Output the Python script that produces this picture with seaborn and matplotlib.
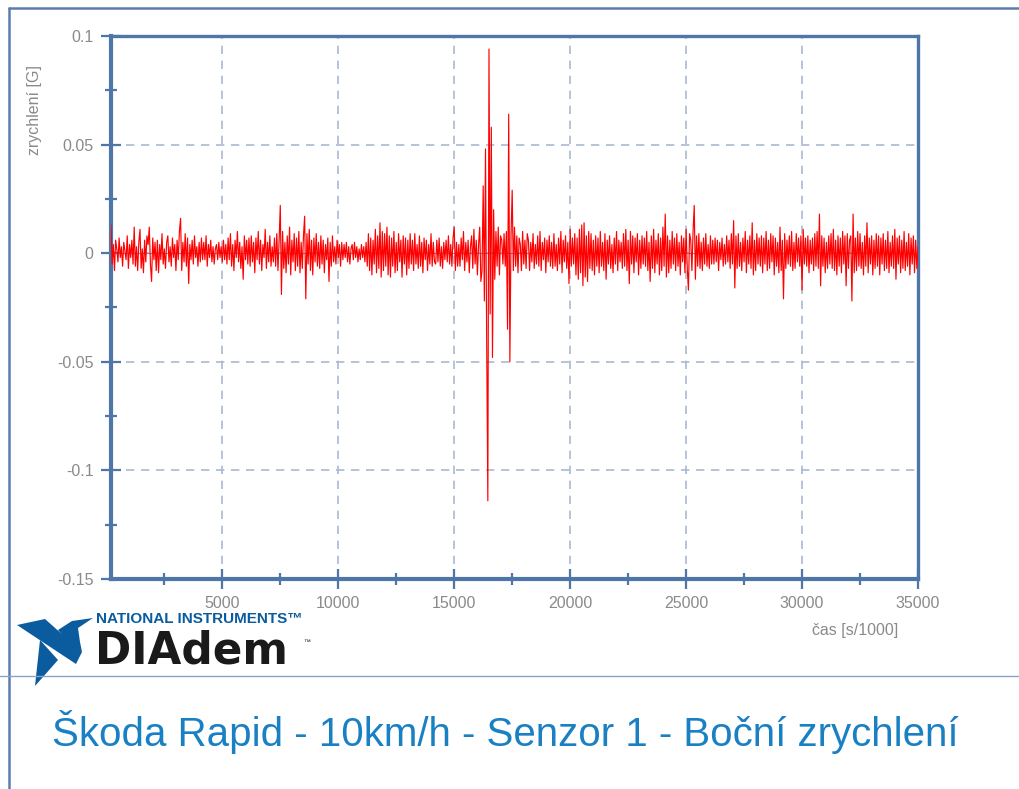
import numpy as np
import seaborn as sns
import matplotlib.pyplot as plt
from matplotlib.lines import Line2D
from matplotlib.patches import Polygon
from matplotlib.ticker import MultipleLocator, FixedLocator

# acceleration samples in mG in blocks of ~1000 time units
accel_mg = [
    13, -5, 4, -8, 6, 2, -4, 7, -2, 3, -6, 5, 1, -3, 8, -7, 4, -2, 6, -5,
    12, -6, 3, -8, 5, 11, -7, 2, -9, 6, -4, 8, 4, 12, -5, -13, 7, -3, 5, -8,
    6, -9, 4, -3, 9, -5, 2, -7, 5, 8, -4, 3, -6, 7, -2, 4, -8, 6, -3, 10,
    16, -8, 5, -4, 9, -6, 7, -14, 4, -3, 6, -5, 8, -2, 3, -6, 5, -4, 7, -3,
    5, -3, 8, -6, 4, -2, 6, -4, 3, -5, 2, 4, -3, 5, -2, 3, -4, 6, -3, 4,
    -5, 7, -3, 9, -6, 4, -8, 6, -2, 10, -4, 5, -7, 3, -12, 8, -3, 6, -5, 7,
    -6, 8, -4, 5, -9, 7, -3, 10, -5, 6, -8, 4, -2, 11, -7, 5, -4, 8, -6, 3,
    -4, 7, -6, 9, -8, 6, 22, -19, 10, -7, 5, -9, 8, -5, 12, -10, 6, -4, 9, -8,
    7, -6, 10, -9, 5, -7, 8, 17, -21, 9, -5, 11, -8, 6, -10, 7, -4, 9, -6, 5,
    -7, 8, -5, 6, -9, 4, -3, 7, -13, 5, -6, 8, -4, 3, -5, 6, -2, 4, -6, 5,
    -3, 4, -2, 5, -4, 3, -5, 2, 4, -3, 5, -2, 3, -4, 2, -3, 4, -2, 3, -4,
    5, -6, 9, -8, 7, -10, 6, -5, 11, -9, 8, -7, 14, -11, 10, -8, 9, -6, 12, -10,
    8, -11, 7, -6, 10, -9, 5, -8, 9, -4, 6, -11, 8, -5, 7, -10, 6, -7, 9, -5,
    6, -8, 9, -5, 4, -7, 8, -6, 5, -9, 7, -3, 6, -8, 4, -5, 9, -6, 5, -4,
    -5, 6, -4, 7, -6, 3, -7, 5, -3, 6, -4, 8, -5, 4, -6, 7, 12, -8, 5, -6,
    4, -6, 7, -3, 10, -8, 5, -4, 6, -9, 3, 8, -7, 11, -5, 6, -10, 4, 12, -13,
    -8, 31, -22, 48, -40, -114, 94, -28, 58, -48, 20, -12, 10, -6, 12, -10, 8, 6, -5, 9,
    -6, 10, -35, 64, -50, 8, 29, -8, 12, -6, 8, -9, 7, 4, -8, 10, -5, 6, -7, 9,
    6, -8, 5, -4, 9, -7, 4, -5, 8, -6, 10, -8, 5, -3, 7, -9, 6, -4, 8, -6,
    5, -7, 9, -6, 4, -8, 7, -5, 10, -9, 6, -4, 8, -7, 5, -14, 11, -6, 7, -5,
    9, -10, 7, -12, 11, -9, 13, -15, 14, -11, 8, -13, 10, -7, 9, -8, 6, -10, 8, -6,
    7, -9, 10, -6, 5, -8, 9, -12, 6, -5, 8, -7, 4, -9, 7, -5, 10, -8, 6, -4,
    5, -7, 9, -6, 11, -8, 6, -14, 10, -5, 8, -9, 7, -4, 9, -10, 6, -7, 8, -5,
    7, -6, 10, -8, 5, -13, 8, -7, 11, -9, 6, -5, 9, -10, 7, -8, 12, -6, 18, -11,
    8, -9, 6, -7, 10, -5, 7, -8, 9, -6, 5, -10, 8, -4, 7, -9, 11, -7, -17, 9,
    6, -8, 10, 22, -12, 8, -6, 9, -7, 5, -8, 7, -5, 9, -6, 4, -7, 8, -5, 6,
    -5, 7, -4, 6, -8, 5, -3, 7, -6, 4, -5, 8, -4, 6, -7, 9, -5, 15, -16, 8,
    -7, 9, -6, 5, -8, 7, -4, 10, -9, 6, -5, 8, -7, 14, -10, 6, -8, 9, -5, 7,
    -6, 8, -9, 7, -5, 10, -8, 6, -7, 9, -4, 8, -10, 7, -6, 5, -9, 12, -8, 6,
    -21, 9, -7, 6, -5, 8, -6, 10, -8, 5, -7, 9, -4, 7, -6, 8, -17, 11, -5, 7,
    -6, 8, -9, 6, -5, 7, -8, 9, -6, 10, -7, 18, -15, 8, -6, 7, -9, 5, -7, 8,
    -5, 9, -7, 11, -8, 6, -10, 8, -6, 7, -9, 10, -5, 8, -15, 9, -7, 6, 8, -22,
    18, -9, 7, -8, 10, -6, 9, -7, 5, -10, 8, -6, 14, -9, 7, -5, 8, -10, 6, -7,
    9, -6, 8, -10, 7, -5, 9, -8, 6, -7, 10, -9, 5, -6, 8, -7, 11, -12, 7, -5,
    8, -9, 6, -7, 10, -8, 5, -6, 9, -10, 7, -5, 8, -9, 6, -7, 3,
]
t_first = 215
t_last = 35000

y_ticks = [0.1, 0.05, 0, -0.05, -0.1, -0.15]
y_tick_labels = ["0.1", "0.05", "0", "-0.05", "-0.1", "-0.15"]
x_ticks = [5000, 10000, 15000, 20000, 25000, 30000, 35000]
x_tick_labels = ["5000", "10000", "15000", "20000", "25000", "30000", "35000"]

accel = np.array(accel_mg) / 1000.0
t = np.linspace(t_first, t_last, len(accel))

sns.set_theme(style="white")
plt.rcParams["font.family"] = ["Liberation Sans", "DejaVu Sans"]
plt.rcParams["axes.unicode_minus"] = False

axis_blue = "#4f76a8"
grid_blue = "#a9bad2"
label_gray = "#8a8a8a"

fig = plt.figure(figsize=(10.2, 7.89), dpi=100)
ax = fig.add_axes([111 / 1020, 1 - 579 / 789, 807 / 1020, 543 / 789])

ax.axhline(0, color="#8090a8", lw=0.8, zorder=1)
sns.lineplot(x=t, y=accel, ax=ax, color="red", lw=0.85, zorder=3)

ax.set_xlim(t_first, t_last)
ax.set_ylim(-0.15, 0.1)
ax.xaxis.set_major_locator(FixedLocator(x_ticks))
ax.set_xticklabels(x_tick_labels)
ax.xaxis.set_minor_locator(MultipleLocator(2500))
ax.yaxis.set_major_locator(FixedLocator(y_ticks))
ax.set_yticklabels(y_tick_labels)
ax.yaxis.set_minor_locator(MultipleLocator(0.025))

ax.grid(True, which="major", color=grid_blue, lw=1.2, ls=(0, (5, 4)))
for side in ["left", "bottom", "top", "right"]:
    ax.spines[side].set_color(axis_blue)
    ax.spines[side].set_linewidth(3.0 if side in ("left", "bottom") else 2.4)
    ax.spines[side].set_visible(True)

ax.tick_params(which="major", direction="inout", length=15, width=1.6, color=axis_blue,
               labelsize=11.5, labelcolor=label_gray)
ax.tick_params(which="minor", direction="inout", length=9, width=1.6, color=axis_blue)
ax.tick_params(axis="x", which="both", bottom=True, top=False, pad=5)
ax.tick_params(axis="y", which="both", left=True, right=False, pad=5)
ax.set_xlabel("")
ax.set_ylabel("")

fig.text(35 / 1020, 1 - 110 / 789, "zrychlení [G]", rotation=90, ha="center", va="center",
         fontsize=11.5, color=label_gray)
fig.text(898 / 1020, 1 - 630 / 789, "čas [s/1000]", ha="right", va="center",
         fontsize=11.5, color=label_gray)

# page frame
frame_blue = "#5a7db0"
fig.add_artist(Line2D([9 / 1020, 1], [1 - 8 / 789, 1 - 8 / 789], color=frame_blue, lw=1.8))
fig.add_artist(Line2D([9 / 1020, 9 / 1020], [0, 1 - 8 / 789], color=frame_blue, lw=1.8))
fig.add_artist(Line2D([0, 1], [1 - 676 / 789, 1 - 676 / 789], color="#8aa4c8", lw=1.0))

# DIAdem logo
logo_blue = "#0a5c9e"
def px(pts):
    return [(x / 1020, 1 - y / 789) for x, y in pts]
logo_parts = [
    [(17, 625), (45, 619), (82, 652), (76, 664)],
    [(40, 640), (58, 660), (35, 686)],
    [(58, 630), (72, 621), (93, 618), (78, 628), (80, 642), (82, 652), (70, 644)],
]
for part in logo_parts:
    fig.add_artist(Polygon(px(part), closed=True, color=logo_blue, lw=0,
                           transform=fig.transFigure))
fig.text(96 / 1020, 1 - 619 / 789, "NATIONAL INSTRUMENTS™", ha="left", va="center",
         fontsize=11, fontweight="bold", color=logo_blue,
         family=["Liberation Sans Narrow", "Liberation Sans", "DejaVu Sans"])
fig.text(95 / 1020, 1 - 663 / 789, "DIAdem", ha="left", va="baseline",
         fontsize=31.5, fontweight="bold", color="#1a1a1a", family=["DejaVu Sans"])
fig.text(303 / 1020, 1 - 642 / 789, "™", ha="left", va="center", fontsize=5, color="#1a1a1a")

fig.text(52 / 1020, 1 - 732 / 789, "Škoda Rapid - 10km/h - Senzor 1 - Boční zrychlení",
         ha="left", va="center", fontsize=29, color="#1a80c4")

fig.savefig("out.png", dpi=100)
